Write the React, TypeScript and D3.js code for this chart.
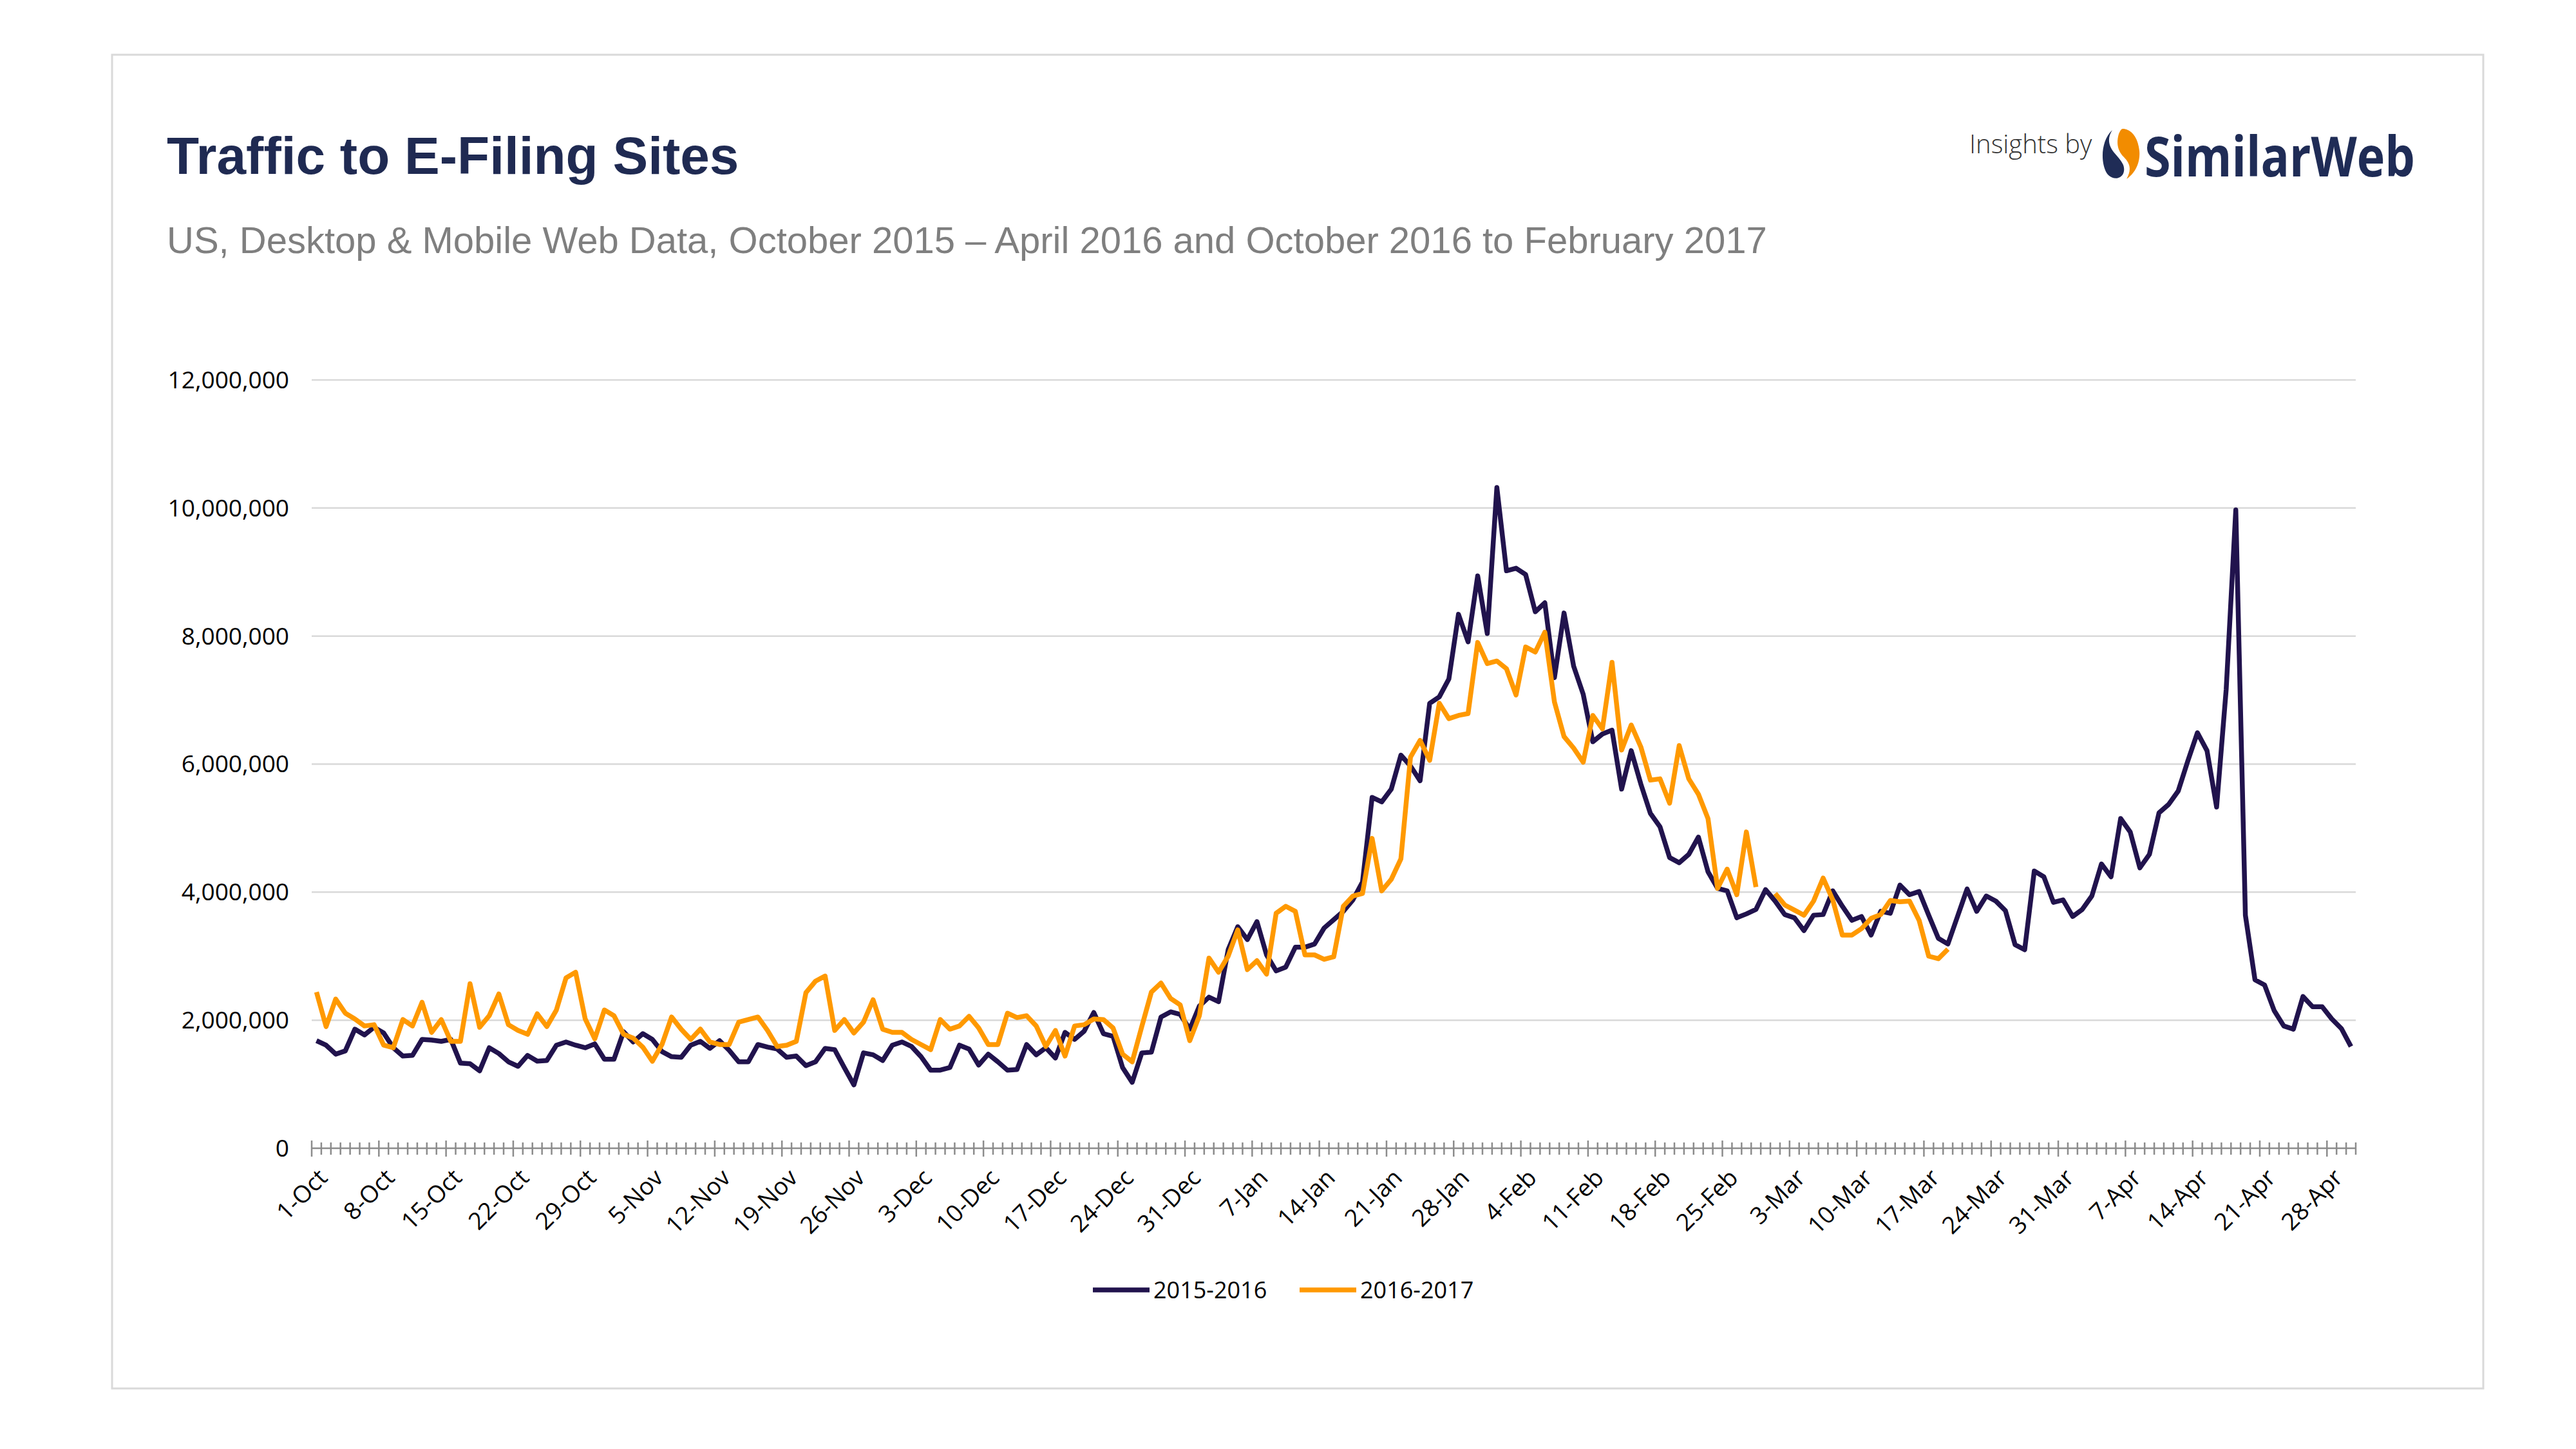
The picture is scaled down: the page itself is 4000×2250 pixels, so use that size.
import React, { useEffect, useRef } from 'react';
import * as d3 from 'd3';

// daily values in millions, day 0 = 1-Oct
const series2015 = [
  1.68, 1.61, 1.47, 1.52, 1.86, 1.77, 1.89, 1.80, 1.57, 1.44, 1.45, 1.70, 1.69, 1.67, 1.70, 1.33,
  1.32, 1.21, 1.57, 1.48, 1.35, 1.28, 1.45, 1.36, 1.37, 1.61, 1.66, 1.61, 1.57, 1.63, 1.39, 1.39,
  1.82, 1.66, 1.79, 1.70, 1.51, 1.43, 1.42, 1.61, 1.67, 1.56, 1.68, 1.53, 1.35, 1.35, 1.62, 1.58,
  1.55, 1.42, 1.44, 1.29, 1.35, 1.56, 1.54, 1.26, 0.99, 1.49, 1.46, 1.37, 1.61, 1.66, 1.59, 1.43,
  1.22, 1.22, 1.26, 1.61, 1.55, 1.30, 1.47, 1.35, 1.22, 1.23, 1.62, 1.46, 1.57, 1.41, 1.81, 1.70,
  1.83, 2.12, 1.79, 1.75, 1.26, 1.03, 1.49, 1.50, 2.05, 2.13, 2.09, 1.86, 2.22, 2.36, 2.29,
  3.10, 3.46, 3.26, 3.54, 3.02, 2.77, 2.83, 3.14, 3.14, 3.19, 3.44, 3.57, 3.70,
  3.88, 4.16, 5.48, 5.41, 5.61, 6.14, 5.97, 5.74, 6.95, 7.05, 7.33, 8.34, 7.91, 8.94, 8.04, 10.32,
  9.02, 9.06, 8.96, 8.38, 8.52, 7.35, 8.36, 7.53, 7.09, 6.35, 6.47, 6.53, 5.61, 6.21, 5.69, 5.23,
  5.02, 4.54, 4.46, 4.59, 4.86, 4.32, 4.06, 4.02, 3.60, 3.66, 3.73, 4.04, 3.86, 3.65, 3.60,
  3.40, 3.64, 3.65, 4.02, 3.78, 3.56, 3.62, 3.33, 3.70, 3.67, 4.11, 3.96, 4.01, 3.64, 3.28, 3.19,
  3.62, 4.05, 3.70, 3.94, 3.86, 3.71, 3.18, 3.10, 4.33, 4.24,
  3.84, 3.88, 3.62, 3.73, 3.94, 4.44, 4.24, 5.15, 4.94, 4.38, 4.59, 5.24, 5.37, 5.58, 6.05, 6.49,
  6.21, 5.33, 7.17, 9.97, 3.64, 2.63, 2.55, 2.15, 1.91, 1.86, 2.37, 2.21, 2.21, 2.02, 1.87, 1.59,
];

const series2016: (number | null)[] = [
  2.44, 1.90, 2.33, 2.11, 2.02, 1.91, 1.93, 1.61, 1.57, 2.01, 1.91, 2.28, 1.81, 2.01, 1.67, 1.67,
  2.57, 1.89, 2.07, 2.41, 1.93, 1.84, 1.78, 2.10, 1.90, 2.16, 2.66, 2.75, 2.02, 1.71, 2.16, 2.07,
  1.78, 1.72, 1.58, 1.36, 1.62, 2.05, 1.86, 1.70, 1.86, 1.66, 1.62, 1.62, 1.97, 2.01, 2.05, 1.84,
  1.59, 1.61, 1.67, 2.43, 2.61, 2.69, 1.84, 2.01, 1.80, 1.97, 2.32, 1.86, 1.81, 1.81, 1.70, 1.62,
  1.54, 2.01, 1.86, 1.91, 2.06, 1.88, 1.62, 1.62, 2.11, 2.04, 2.07, 1.91, 1.59, 1.84, 1.44, 1.91,
  1.93, 2.02, 2.01, 1.88, 1.47, 1.35, 1.90, 2.44, 2.58, 2.34, 2.24, 1.68, 2.07, 2.97, 2.75,
  3.00, 3.41, 2.79, 2.93, 2.72, 3.67, 3.78, 3.70, 3.02, 3.02, 2.95, 2.99, 3.78,
  3.94, 3.98, 4.84, 4.02, 4.20, 4.52, 6.11, 6.37, 6.06, 6.95, 6.71, 6.76, 6.79, 7.90, 7.57, 7.61,
  7.49, 7.08, 7.83, 7.75, 8.06, 6.97, 6.43, 6.25, 6.03, 6.76, 6.55, 7.59, 6.22, 6.61, 6.27, 5.75,
  5.77, 5.39, 6.29, 5.77, 5.53, 5.15, 4.06, 4.36, 3.96, 4.94, 4.08, null, 3.98, 3.80, 3.72,
  3.64, 3.86, 4.22, 3.88, 3.33, 3.33, 3.43, 3.59, 3.65, 3.87, 3.85, 3.86, 3.56, 3.00, 2.96, 3.11,
];

const yTicks = [0, 2000000, 4000000, 6000000, 8000000, 10000000, 12000000];
const legendLabels = ['2015-2016', '2016-2017'];
const colors = ['#21134d', '#ff9900'];

const startDate = new Date(2015, 9, 1);
const days = series2015.map((_, i) => d3.timeDay.offset(startDate, i));
const fmtDay = d3.timeFormat('%-d-%b');

const App: React.FC = () => {
  const svgRef = useRef<SVGSVGElement>(null);

  useEffect(() => {
    const svg = d3.select(svgRef.current);
    svg.selectAll('*').remove();
    const font = "'Open Sans', 'Noto Sans', sans-serif";

    svg.append('rect').attr('x', 0).attr('y', 0).attr('width', 4000).attr('height', 2250).attr('fill', '#fff');
    svg.append('rect').attr('x', 174).attr('y', 85).attr('width', 3700).attr('height', 2071)
      .attr('fill', '#fff').attr('stroke', '#d9d9d9').attr('stroke-width', 3)
      .attr('width', 3700 - 18);

    svg.append('text').attr('x', 259).attr('y', 270).attr('font-family', 'Arial, "Liberation Sans", sans-serif')
      .attr('font-weight', 'bold').attr('font-size', 82).attr('fill', '#1f2a52').text('Traffic to E-Filing Sites');
    svg.append('text').attr('x', 259).attr('y', 393).attr('font-family', 'Arial, "Liberation Sans", sans-serif')
      .attr('font-size', 58).attr('fill', '#7f7f7f')
      .text('US, Desktop & Mobile Web Data, October 2015 \u2013 April 2016 and October 2016 to February 2017');

    // logo
    svg.append('text').attr('x', 3074 - 16).attr('y', 238).attr('font-family', font).attr('font-weight', 300)
      .attr('font-size', 40).attr('fill', '#333').text('Insights by');
    const lg = svg.append('g').attr('transform', 'translate(3266,200)');
    lg.append('path').attr('d', 'M14,2 C-6,20 -4,60 8,72 C16,80 30,78 32,66 C34,54 24,46 16,36 C8,26 6,14 14,2 Z').attr('fill', '#1f2c56');
    lg.append('path').attr('d', 'M30,0 C44,0 54,14 56,34 C58,54 48,70 36,78 C44,64 42,54 32,44 C22,34 20,22 24,8 C26,3 28,0 30,0 Z').attr('fill', '#f28c00');
    svg.append('text').attr('x', 3330).attr('y', 274).attr('font-family', font).attr('font-weight', 'bold')
      .attr('font-size', 86).attr('fill', '#1f2c56').attr('textLength', 420).attr('lengthAdjust', 'spacingAndGlyphs')
      .text('SimilarWeb');

    const x = d3.scaleBand<number>().domain(d3.range(series2015.length)).range([484, 3658]);
    const y = d3.scaleLinear().domain([0, 12000000]).range([1783, 590]);
    const cx = (i: number) => x(i)! + x.bandwidth() / 2;

    // grid
    svg.append('g').selectAll('line').data(yTicks.slice(1)).enter().append('line')
      .attr('x1', 484).attr('x2', 3658).attr('y1', d => y(d)).attr('y2', d => y(d))
      .attr('stroke', '#d9d9d9').attr('stroke-width', 2.5);

    svg.append('g').selectAll('text').data(yTicks).enter().append('text')
      .attr('x', 449).attr('y', d => y(d)).attr('dy', '0.35em').attr('text-anchor', 'end')
      .attr('font-family', font).attr('font-size', 37).attr('fill', '#000')
      .text(d => d3.format(',')(d));

    // x axis
    const ax = svg.append('g');
    ax.append('line').attr('x1', 484).attr('x2', 3658).attr('y1', 1783).attr('y2', 1783)
      .attr('stroke', '#8c8c8c').attr('stroke-width', 2.5);
    ax.selectAll('line.t').data(d3.range(series2015.length + 1)).enter().append('line')
      .attr('x1', i => 484 + i * x.bandwidth()).attr('x2', i => 484 + i * x.bandwidth())
      .attr('y1', i => (i % 7 === 0 ? 1771 : 1774)).attr('y2', i => (i % 7 === 0 ? 1796 : 1793))
      .attr('stroke', '#8c8c8c').attr('stroke-width', 2.5);
    ax.selectAll('text').data(d3.range(0, series2015.length, 7)).enter().append('text')
      .attr('transform', i => `translate(${cx(i) + 10},${1822}) rotate(-45)`)
      .attr('text-anchor', 'end').attr('dy', '0.35em')
      .attr('font-family', font).attr('font-size', 37).attr('fill', '#000')
      .text(i => fmtDay(days[i]));

    const line = d3.line<number | null>()
      .defined(d => d !== null)
      .x((_, i) => cx(i))
      .y(d => y((d as number) * 1e6))
      .curve(d3.curveLinear);

    [series2015, series2016].forEach((s, k) => {
      svg.append('path').datum(s as (number | null)[]).attr('d', line).attr('fill', 'none')
        .attr('stroke', colors[k]).attr('stroke-width', 7.5).attr('stroke-linejoin', 'round');
    });

    // legend
    const lgX = [1697, 2018];
    legendLabels.forEach((lab, k) => {
      svg.append('line').attr('x1', lgX[k]).attr('x2', lgX[k] + 88).attr('y1', 2003).attr('y2', 2003)
        .attr('stroke', colors[k]).attr('stroke-width', 7.5);
      svg.append('text').attr('x', lgX[k] + 94).attr('y', 2003).attr('dy', '0.35em')
        .attr('font-family', font).attr('font-size', 36).attr('fill', '#000').text(lab);
    });
  }, []);

  return (
    <svg ref={svgRef} width={4000} height={2250}
      style={{ position: 'absolute', left: 0, top: 0, display: 'block' }} />
  );
};

export default App;
